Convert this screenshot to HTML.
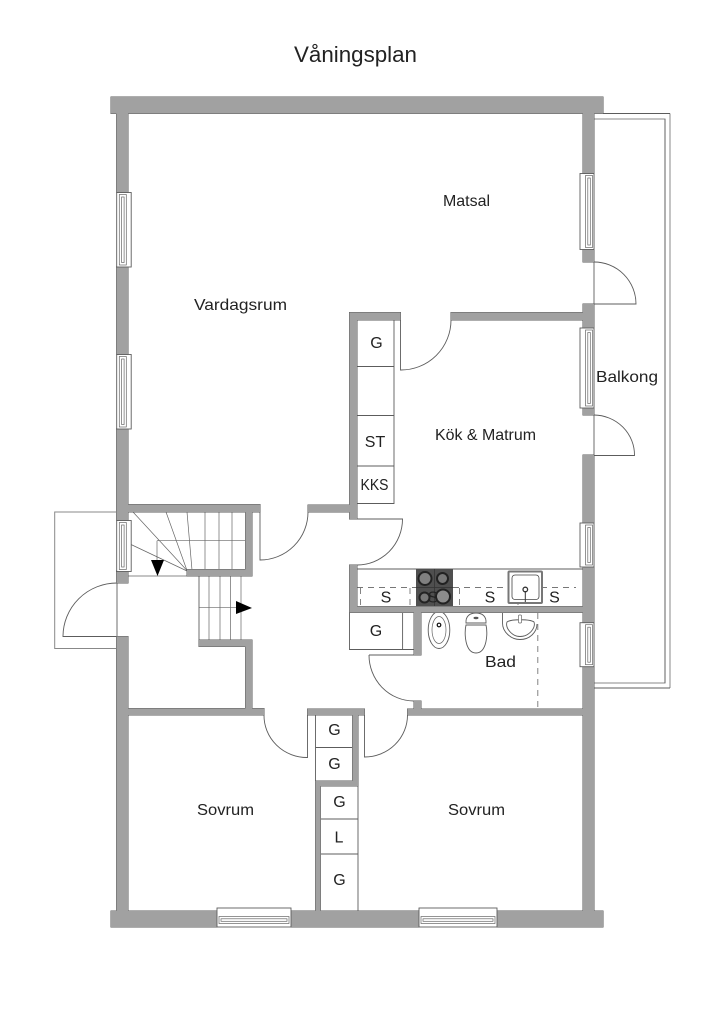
<!DOCTYPE html>
<html lang="sv">
<head>
<meta charset="utf-8">
<title>Våningsplan</title>
<style>
html,body{margin:0;padding:0;background:#fff}
svg{display:block}
text{font-family:"Liberation Sans",sans-serif;fill:#222;text-anchor:middle}
.l{fill:none;stroke:#5c5c5c;stroke-width:.9}
.g{fill:none;stroke:#888;stroke-width:1}
.d{fill:none;stroke:#777;stroke-width:.9;stroke-dasharray:6 5}
.o{fill:#fff;stroke:#5c5c5c;stroke-width:.9}
.f{fill:none;stroke:#666;stroke-width:.7}
</style>
</head>
<body>
<svg width="724" height="1024" viewBox="0 0 724 1024" xmlns="http://www.w3.org/2000/svg">
<defs>
<g id="w">
<rect x="111" y="97" width="492" height="16.500"/>
<rect x="111" y="911" width="106" height="16"/>
<rect x="291" y="911" width="128" height="16"/>
<rect x="497" y="911" width="106" height="16"/>
<rect x="116.500" y="97" width="11.500" height="95"/>
<rect x="116.500" y="267" width="11.500" height="87"/>
<rect x="116.500" y="429" width="11.500" height="91"/>
<rect x="116.500" y="571" width="11.500" height="12"/>
<rect x="116.500" y="636.500" width="11.500" height="280"/>
<rect x="583" y="97" width="11" height="76"/>
<rect x="583" y="249.500" width="11" height="12.500"/>
<rect x="583" y="304" width="11" height="24"/>
<rect x="583" y="408" width="11" height="7"/>
<rect x="583" y="455" width="11" height="68"/>
<rect x="583" y="567" width="11" height="56"/>
<rect x="583" y="667" width="11" height="250"/>
<rect x="128" y="504.500" width="132" height="7.500"/>
<rect x="245.500" y="504.500" width="6.500" height="71.500"/>
<rect x="187" y="569.500" width="65" height="6.500"/>
<rect x="199" y="640" width="53" height="6.500"/>
<rect x="245.500" y="640" width="6.500" height="72"/>
<rect x="128" y="708.500" width="136" height="6.500"/>
<rect x="308" y="505" width="49" height="7"/>
<rect x="349.500" y="312.500" width="7.500" height="206.500"/>
<rect x="349.500" y="312.500" width="51" height="7.500"/>
<rect x="451" y="312.500" width="132" height="7.500"/>
<rect x="349.500" y="565" width="7.500" height="47"/>
<rect x="349.500" y="606.500" width="234" height="6"/>
<rect x="414" y="612" width="7" height="43"/>
<rect x="414" y="701" width="7" height="9"/>
<rect x="407.500" y="709" width="176" height="6"/>
<rect x="307.500" y="709" width="57" height="6"/>
<rect x="352.500" y="712" width="5.500" height="73"/>
<rect x="315.500" y="781" width="42.500" height="5"/>
<rect x="315.500" y="781" width="5" height="131"/>
</g>
</defs>

<rect width="724" height="1024" fill="#fff"/>

<text x="355.500" y="62" font-size="22" textLength="123" lengthAdjust="spacingAndGlyphs">Våningsplan</text>

<!-- balcony right -->
<path class="g" d="M594 119H665V683H594"/>
<path class="g" d="M670 113.500V688"/>
<path class="l" d="M594 113.500H670M594 688H670"/>
<path class="l" d="M665 119V683"/>
<path class="l" d="M594 113V688"/>

<!-- balcony left -->
<path class="g" d="M117 512H54.700V648.500H117"/>
<path class="l" d="M117 583V636.500"/>
<path class="l" d="M117 583A54 53.500 0 0 0 63 636.500H117"/>

<!-- stairs upper -->
<path class="f" d="M133 512L187 570.500M166 512L187 570.500M187 512L192 570M131 544.500L187 571M205 512V569.500M219 512V569.500M232 512V569.500M157 540.700H245M157 540.700V562"/>
<path class="g" d="M128 576H187"/>
<polygon points="151,560 164,560 157.500,576" fill="#000"/>
<!-- stairs lower -->
<path class="f" d="M209 576V640M220 576V640M230.500 576V640M241 576V640M199 607.700H236"/>
<path class="l" d="M199 576V640"/>
<polygon points="236,601 236,614 252,608" fill="#000"/>

<!-- cabinets -->
<path class="l" d="M357 320H394V503.500H357M357 366.500H394M357 415.500H394M357 466H394"/>
<path class="l" d="M320.500 786H358V911M320.500 819H358M320.500 854H358"/>
<path class="l" d="M315.500 715V781H352.500M315.500 747.500H352.500"/>
<path class="l" d="M349.500 612V649.500H414M402.600 612V649.500"/>

<!-- doors -->
<path class="l" d="M260 512V560A48 48 0 0 0 308 512"/>
<path class="l" d="M400.500 320V370A50 50 0 0 0 451 320"/>
<path class="l" d="M357 519H402.500A45.500 46 0 0 1 357 565"/>
<path class="l" d="M369 655H414M369 655A45 46 0 0 0 414 701"/>
<path class="l" d="M264 715A43 42 0 0 0 307.500 757.500V715"/>
<path class="l" d="M407.500 715A43 42 0 0 1 364.500 757V715"/>
<path class="l" d="M594 262A42 42 0 0 1 636 304H594"/>
<path class="l" d="M594 415A41 40 0 0 1 634.500 455.500H594"/>

<!-- kitchen -->
<path class="l" d="M357 569H583"/>
<path class="d" d="M357 587.500H416M453 587.500H576"/>
<path class="d" stroke-dasharray="4 4" d="M360.500 588V606M410 588V606M459.500 588V606M518 588V606"/>
<rect x="416" y="569" width="37" height="37.500" fill="#4f4f4f"/>
<path stroke="#333" stroke-width=".7" d="M416 587.500H453M434.500 569V606" fill="none"/>
<g stroke="#222" stroke-width="2">
<circle cx="425" cy="578.500" r="6.500" fill="#808080"/>
<circle cx="442.500" cy="578.500" r="5.500" fill="#777"/>
<circle cx="424.500" cy="597.500" r="5" fill="#777"/>
<circle cx="443" cy="596.500" r="7" fill="#8c8c8c"/>
</g>
<rect x="508.500" y="571.500" width="33.500" height="31.500" rx="1" fill="#fff" stroke="#777" stroke-width="2"/>
<rect x="512" y="575" width="27" height="24.500" rx="3" fill="#fff" stroke="#444" stroke-width=".8"/>
<circle cx="525.300" cy="589.500" r="2.300" fill="none" stroke="#333" stroke-width="1.300"/>
<path stroke="#333" stroke-width="1" d="M525.300 591V602" fill="none"/>

<!-- bathroom fixtures -->
<ellipse cx="439" cy="630" rx="10.800" ry="18.500" class="l"/>
<ellipse cx="439" cy="630" rx="7" ry="13.500" class="f"/>
<circle cx="439" cy="625" r="1.800" fill="#fff" stroke="#111" stroke-width="1.200"/>
<path class="l" d="M466 623C465.500 616 470 613 476 613C482 613 486.500 616 486 623Z"/>
<path class="l" d="M466 625C464 633 465 653 476 653C487 653 488 633 486 625Z"/>
<ellipse cx="476" cy="618" rx="2.500" ry="1.200" fill="#555"/>
<path class="l" d="M502.500 612V623C502.500 632 511 639.500 520 639.500C530 639.500 537 632 537 624"/>
<path class="l" d="M507 622C511 619 530 619 534 622C536 628 529 636.500 520 636.500C512 636.500 505 628 507 622Z"/>
<rect x="518.500" y="615" width="3" height="8" rx="1" fill="#fff" stroke="#666" stroke-width=".7"/>
<path class="d" stroke-width="1.200" d="M537.800 613V709"/>

<!-- walls -->
<use href="#w" fill="#5c5c5c" stroke="#5c5c5c" stroke-width="1"/>
<use href="#w" fill="#a1a1a1" stroke="none"/>

<!-- left windows -->
<rect class="o" x="116.700" y="192.500" width="14.500" height="74.500"/>
<rect class="f" x="119.300" y="194.500" width="7" height="70.500"/>
<rect class="f" x="121.600" y="197" width="2.500" height="65.500"/>
<rect class="o" x="116.700" y="354.500" width="14.500" height="74.500"/>
<rect class="f" x="119.300" y="356.500" width="7" height="70.500"/>
<rect class="f" x="121.600" y="359" width="2.500" height="65.500"/>
<rect class="o" x="116.700" y="520.500" width="14.500" height="51"/>
<rect class="f" x="119.300" y="522.500" width="7" height="47"/>
<rect class="f" x="121.600" y="525" width="2.500" height="42"/>

<!-- right windows -->
<rect class="o" x="580" y="173.500" width="14" height="76"/>
<rect class="f" x="585.500" y="175.500" width="7" height="72"/>
<rect class="f" x="587.800" y="178" width="2.500" height="67"/>
<rect class="o" x="580" y="328" width="14" height="80"/>
<rect class="f" x="585.500" y="330" width="7" height="76"/>
<rect class="f" x="587.800" y="332.500" width="2.500" height="71"/>
<rect class="o" x="580" y="523" width="14" height="44"/>
<rect class="f" x="585.500" y="525" width="7" height="40"/>
<rect class="f" x="587.800" y="527.500" width="2.500" height="35"/>
<rect class="o" x="580" y="622.700" width="14" height="44"/>
<rect class="f" x="585.500" y="624.700" width="7" height="40"/>
<rect class="f" x="587.800" y="627.200" width="2.500" height="35"/>

<!-- bottom windows -->
<rect class="o" x="217" y="908" width="74" height="19"/>
<rect class="f" x="219" y="916.500" width="70" height="7"/>
<rect class="f" x="221" y="918.800" width="66" height="2.500"/>
<rect class="o" x="419" y="908" width="78" height="19"/>
<rect class="f" x="421" y="916.500" width="74" height="7"/>
<rect class="f" x="423" y="918.800" width="70" height="2.500"/>

<!-- labels -->
<g font-size="16">
<text x="466.500" y="206" textLength="47" lengthAdjust="spacingAndGlyphs">Matsal</text>
<text x="240.500" y="310" textLength="93" lengthAdjust="spacingAndGlyphs">Vardagsrum</text>
<text x="627" y="382" textLength="62" lengthAdjust="spacingAndGlyphs">Balkong</text>
<text x="485.500" y="440" textLength="101" lengthAdjust="spacingAndGlyphs">Kök &amp; Matrum</text>
<text x="500.500" y="667" textLength="31" lengthAdjust="spacingAndGlyphs">Bad</text>
<text x="225.500" y="815" textLength="57" lengthAdjust="spacingAndGlyphs">Sovrum</text>
<text x="476.500" y="815" textLength="57" lengthAdjust="spacingAndGlyphs">Sovrum</text>
<text x="376.500" y="348">G</text>
<text x="375" y="447">ST</text>
<text x="374.500" y="490" textLength="28" lengthAdjust="spacingAndGlyphs">KKS</text>
<text x="376" y="636">G</text>
<text x="334.500" y="735">G</text>
<text x="334.500" y="769">G</text>
<text x="339.500" y="807">G</text>
<text x="339" y="842.500">L</text>
<text x="339.500" y="885">G</text>
<text x="386" y="602.500">S</text>
<text x="433" y="602.500">S</text>
<text x="490" y="602.500">S</text>
<text x="554.500" y="602.500">S</text>
</g>
</svg>
</body>
</html>
